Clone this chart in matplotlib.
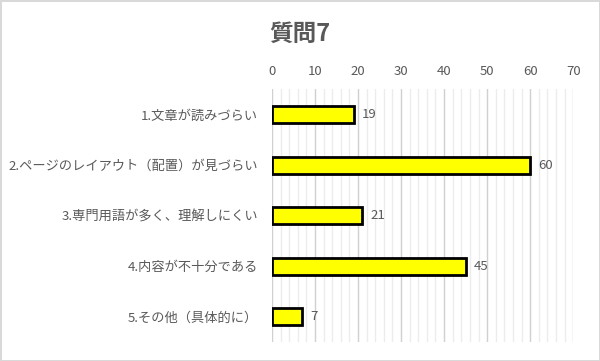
import matplotlib
matplotlib.use('Agg')
import matplotlib.pyplot as plt
from matplotlib.ticker import MultipleLocator

plt.rcParams['font.family'] = ['Noto Sans CJK JP', 'DejaVu Sans']

# Data
categories = ['1.文章が読みづらい', '2.ページのレイアウト（配置）が見づらい',
              '3.専門用語が多く、理解しにくい', '4.内容が不十分である', '5.その他（具体的に）']
values = [19, 60, 21, 45, 7]
title = '質問7'

text_color = '#595959'

fig = plt.figure(figsize=(6, 3.61), dpi=100)
fig.patch.set_facecolor('white')
fig.patch.set_edgecolor('#d9d9d9')
fig.patch.set_linewidth(2)

ax = fig.add_axes([0.4533, 0.0526, 0.502, 0.700])

ypos = list(range(len(categories)))
ax.barh(ypos, values, height=0.34, color='#ffff00', edgecolor='black', linewidth=2, zorder=3)
for y, v in zip(ypos, values):
    ax.text(v + 1.8, y, str(v), va='center', ha='left', fontsize=9.5, color=text_color)

ax.set_xlim(0, 70)
ax.set_ylim(4.5, -0.5)
ax.set_yticks(ypos)
ax.set_yticklabels(categories, fontsize=9.5, color=text_color)
ax.xaxis.tick_top()
ax.xaxis.set_major_locator(MultipleLocator(10))
ax.xaxis.set_minor_locator(MultipleLocator(2))
ax.tick_params(axis='x', which='both', length=0, labelsize=9.5, labelcolor=text_color, pad=8)
ax.tick_params(axis='y', length=0, pad=10)
ax.grid(axis='x', which='major', color='#d0d0d0', linewidth=1, zorder=0)
ax.grid(axis='x', which='minor', color='#ececec', linewidth=1, zorder=0)
for s in ax.spines.values():
    s.set_visible(False)

fig.text(0.5, 0.905, title, ha='center', va='center', fontsize=17, fontweight='bold', color=text_color)

plt.savefig('out.png', dpi=100)
